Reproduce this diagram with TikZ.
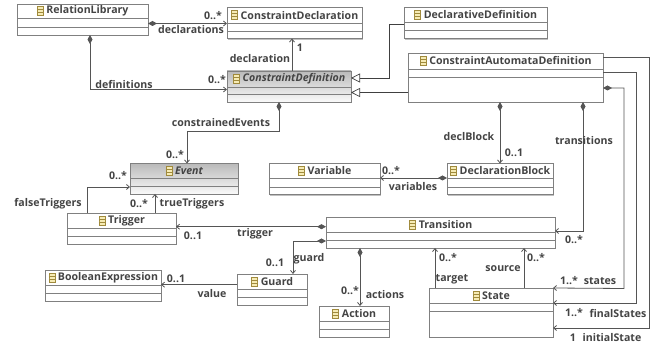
\documentclass[tikz,border=0pt]{standalone}
\usepackage{fontspec}
\setmainfont{Open Sans}
\usetikzlibrary{arrows.meta, shadows}

\definecolor{umledge}{HTML}{555555}
\definecolor{umlline}{HTML}{808080}
\definecolor{umltext}{HTML}{444444}
\definecolor{umlicon}{HTML}{F6EBB4}
\definecolor{umlicondraw}{HTML}{A08A3C}

\tikzset{
    classnode/.style={draw=umlline, line width=0.8pt, fill=white, inner sep=0pt, outer sep=0pt,
        drop shadow={shadow xshift=1.2pt, shadow yshift=-1.2pt, fill=black!35, opacity=0.7}},
    abstractnode/.style={top color=black!27, bottom color=black!2},
    classline/.style={draw=umlline, line width=0.7pt},
    classtitle/.style={font=\fontsize{10.6}{12}\selectfont\bfseries, text=umltext, inner sep=0pt},
    classicon/.style={draw=umlicondraw, fill=umlicon, line width=0.5pt},
    lbl/.style={font=\fontsize{10.6}{12}\selectfont\bfseries, text=umltext, inner sep=0pt},
    link/.style={draw=umledge, line width=0.8pt},
    ref/.style={link, -{Straight Barb[length=3pt, width=5pt]}},
    owner/.style={link, {Diamond[length=9pt, width=5pt]}-{Straight Barb[length=3pt, width=5pt]}},
    extends/.style={draw=black!75, line width=0.7pt, -{Triangle[open, length=9pt, width=9pt, fill=white]}},
}

% name, left, top, right, bottom, first and second separator, title
\newcommand{\classbox}[9][]{
    \node[classnode, #1, minimum width={(#5-#3)*1pt}, minimum height={(#6-#4)*1pt}] (#2)
        at ({(#3+#5)/2},{(#4+#6)/2}) {};
    \draw[classline] (#2.west |- 0,#7) -- (#2.east |- 0,#7);
    \draw[classline] (#2.west |- 0,#8) -- (#2.east |- 0,#8);
    \node[classtitle] (#2-title) at ({(#3+#5)/2+5},{(#4+#7)/2}) {#9};
    \draw[classicon] ([xshift=-9pt, yshift=-4.5pt]#2-title.west) rectangle +(6pt,9pt);
    \draw[classicon] ([xshift=-9pt, yshift=-1.5pt]#2-title.west) -- +(6pt,0pt);
    \draw[classicon] ([xshift=-9pt, yshift=1.5pt]#2-title.west) -- +(6pt,0pt);
}

\begin{document}
\begin{tikzpicture}[x=1pt, y=-1pt]
    \path[use as bounding box, fill=white] (0,0) rectangle (657,347);

    % Create classes
    \classbox{library}{17}{4}{148}{35}{18}{27}{RelationLibrary}
    \classbox{declaration}{227}{7.5}{362}{38.5}{23}{31}{ConstraintDeclaration}
    \classbox{declarative}{404}{7.5}{547}{38.5}{22.5}{30.5}{DeclarativeDefinition}
    \classbox{automata}{408}{53}{603}{102}{69}{77}{ConstraintAutomataDefinition}
    \classbox[abstractnode]{definition}{227}{71}{351}{102}{87}{94}{\itshape ConstraintDefinition}
    \classbox[abstractnode]{event}{130}{163.5}{238}{194}{178}{186}{\itshape Event}
    \classbox{variable}{269}{163.5}{380}{194.5}{178}{187}{Variable}
    \classbox{block}{447}{163.5}{553}{194.5}{178}{187}{DeclarationBlock}
    \classbox{trigger}{67}{213}{176}{244}{228}{236}{Trigger}
    \classbox{transition}{326}{217}{555}{248}{232}{240}{Transition}
    \classbox{expression}{45}{270}{161}{301}{285}{293}{BooleanExpression}
    \classbox{guard}{237}{274}{307}{305}{289}{297}{Guard}
    \classbox{action}{319}{306}{389}{337}{321}{329}{Action}
    \classbox{state}{429}{288}{553}{337}{303}{311}{State}

    % Bends of the longer lines
    \coordinate (declarativebend) at (389,78);
    \coordinate (eventbend) at (187,131);
    \coordinate (statesbend) at (624,288.5);
    \coordinate (finalbend) at (636,303);
    \coordinate (initialbend) at (649,328);

    % Draw generalizations
    \draw[extends] ([yshift=-1pt]declarative.west) -| (declarativebend) -- ([yshift=8.5pt]definition.east);
    \draw[extends] ([yshift=-15pt]automata.west) -- ([yshift=-6pt]definition.east);

    % Draw references
    \draw[owner] ([yshift=-4pt]library.east) -- ([yshift=-0.5pt]declaration.west);
    \draw[owner] ([xshift=7.5pt]library.south) |- ([yshift=-3pt]definition.west);
    \draw[ref] ([xshift=3pt]definition.north) -- ([xshift=3pt]declaration.south -| definition.north);
    \draw[owner] ([xshift=-10pt]definition.south) |- (eventbend) -- ([xshift=3pt]event.north);
    \draw[owner] (block.north |- automata.south) -- (block.north);
    \draw[owner] ([xshift=77.5pt]automata.south) |- ([yshift=1.5pt]transition.east);
    \draw[owner] ([yshift=-10.5pt]automata.east) -| (statesbend) -- (state.north east);
    \draw[ref] ([yshift=5.5pt]automata.east) -| (finalbend) -- ([yshift=9.5pt]state.east);
    \draw[ref] ([yshift=20.5pt]automata.east) -| (initialbend) -- ([yshift=-15.5pt]state.east);
    \draw[owner] ([yshift=1pt]block.west) -- ([yshift=1pt]variable.east);
    \draw[ref] ([xshift=-34.5pt]trigger.north) |- ([yshift=-8.25pt]event.west);
    \draw[ref] ([xshift=33.5pt]trigger.north) -- ([xshift=-29pt]event.south);
    \draw[owner] ([yshift=5.8pt]transition.west) -- ([yshift=1.8pt]trigger.east);
    \draw[owner] ([yshift=-8.5pt]transition.west) -| ([xshift=21pt]guard.north);
    \draw[ref] ([yshift=4.8pt]guard.west) -- ([yshift=0.8pt]expression.east);
    \draw[owner] ([xshift=6pt]transition.south -| action.north) -- ([xshift=6pt]action.north);
    \draw[ref] ([xshift=-56pt]state.north) -- ([xshift=-5.5pt]transition.south);
    \draw[ref] ([xshift=33pt]state.north) -- ([xshift=83.5pt]transition.south);

    % Labels of the references
    \node[lbl] (declarationsmult) at (213,16) {0..*};
    \node[lbl] (declarationslbl) at (191,30) {declarations};
    \node[lbl] (declarationmult) at (300,48) {1};
    \node[lbl] (declarationlbl) at (260,59) {declaration};
    \node[lbl] (definitionslbl) at (124,84) {definitions};
    \node[lbl] (definitionsmult) at (217,80) {0..*};
    \node[lbl] (eventslbl) at (221,123) {constrainedEvents};
    \node[lbl] (eventsmult) at (175,155) {0..*};
    \node[lbl] (blocklbl) at (469,137) {declBlock};
    \node[lbl] (blockmult) at (514,153) {0..1};
    \node[lbl] (transitionslbl) at (584,141) {transitions};
    \node[lbl] (transitionsmult) at (574,240) {0..*};
    \node[lbl] (variablesmult) at (391,171) {0..*};
    \node[lbl] (variableslbl) at (413,187) {variables};
    \node[lbl] (falsemult) at (118,176) {0..*};
    \node[lbl] (falselbl) at (48,204) {falseTriggers};
    \node[lbl] (truemult) at (139,204) {0..*};
    \node[lbl] (truelbl) at (192,204) {trueTriggers};
    \node[lbl] (triggerlbl) at (255,234) {trigger};
    \node[lbl] (triggermult) at (193,236) {0..1};
    \node[lbl] (guardlbl) at (309,259) {guard};
    \node[lbl] (guardmult) at (275,263) {0..1};
    \node[lbl] (valuemult) at (176,279) {0..1};
    \node[lbl] (valuelbl) at (212,294) {value};
    \node[lbl] (targetmult) at (448,258) {0..*};
    \node[lbl] (targetlbl) at (452,279) {target};
    \node[lbl] (sourcemult) at (536,258) {0..*};
    \node[lbl] (sourcelbl) at (503,269) {source};
    \node[lbl] (actionsmult) at (350,291) {0..*};
    \node[lbl] (actionslbl) at (385,295) {actions};
    \node[lbl] (statesmult) at (569,281) {1..*};
    \node[lbl] (stateslbl) at (600,281) {states};
    \node[lbl] (finalmult) at (574,313) {1..*};
    \node[lbl] (finallbl) at (618,313) {finalStates};
    \node[lbl] (initialmult) at (573,338) {1};
    \node[lbl] (initiallbl) at (612,338) {initialState};
\end{tikzpicture}
\end{document}
